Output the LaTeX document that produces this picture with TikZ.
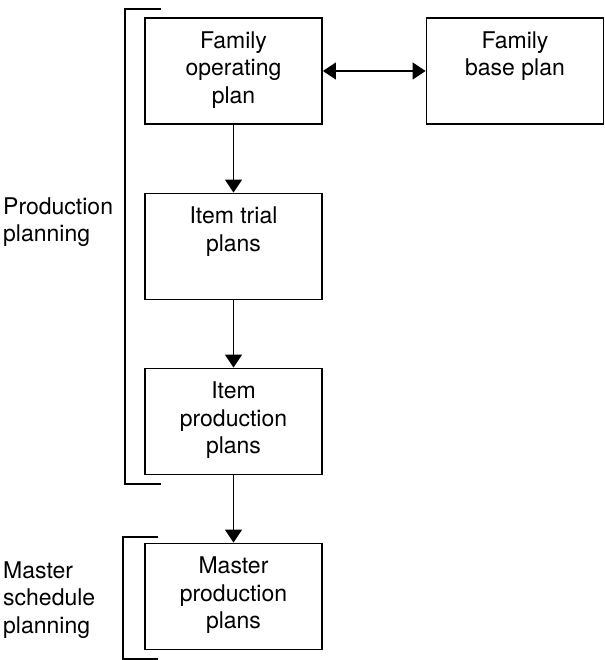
\documentclass[tikz,border=0pt]{standalone}
\usepackage{fontspec}
\setmainfont{TeX Gyre Heros}
\usetikzlibrary{arrows.meta}
\tikzset{planbox/.style={rectangle, draw, line width=1.8pt, inner sep=0pt, minimum width=177pt, minimum height=106pt}}
\newcommand{\planbox}[3] {\node at (#1) (#2) [planbox] {\parbox[c][106pt][t]{177pt}{\vspace*{13.5pt}\centering #3\par}};}
\newcommand{\plantransition}[2] {\draw [line width=1.2pt, -{Triangle[length=13pt,width=17pt]}] (#1) -- (#2);}
\newcommand{\plantwoway}[2] {\draw [line width=1.2pt, {Triangle[length=13pt,width=17pt]}-{Triangle[length=13pt,width=17pt]}] (#1) -- (#2);}
\newcommand{\planlabel}[3] {\node at (#1) (#2) [anchor=north west, align=left, inner sep=0pt] {#3};}

\begin{document}
\begin{tikzpicture}[x=1pt, y=-1pt, font=\fontsize{23}{27.5}\selectfont]
\useasboundingbox (0,0) rectangle (604,660);

\planbox {233.5,71}{operating}{Family\\operating\\plan}
\planbox {515,71}{base}{Family\\base plan}
\plantwoway {operating.east}{base.west}

\planbox {233.5,246.5}{trial}{Item trial\\plans}
\plantransition {operating}{trial}

\planbox {233.5,421.5}{itemprod}{Item\\production\\plans}
\plantransition {trial}{itemprod}

\planbox {233.5,596.5}{master}{Master\\production\\plans}
\plantransition {itemprod}{master}

% brackets
\coordinate (pp1) at (161,9);
\coordinate (pp2) at (125,9);
\coordinate (pp3) at (125,484);
\coordinate (pp4) at (161,484);
\draw [line width=1.4pt] (pp1) -- (pp2) -- (pp3) -- (pp4);

\coordinate (ms1) at (158,537);
\coordinate (ms2) at (123,537);
\coordinate (ms3) at (123,659);
\coordinate (ms4) at (158,659);
\draw [line width=1.4pt] (ms1) -- (ms2) -- (ms3) -- (ms4);

\planlabel {3,197.5}{prodplan}{Production\\planning}
\planlabel {3,561.5}{msplan}{Master\\schedule\\planning}

\end{tikzpicture}
\end{document}
